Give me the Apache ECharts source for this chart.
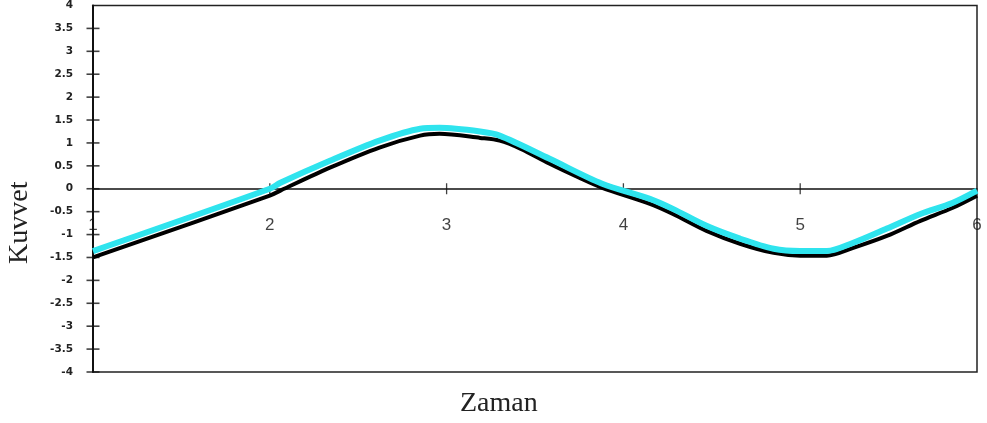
<!DOCTYPE html>
<html>
<head>
<meta charset="utf-8">
<script src="https://cdn.jsdelivr.net/npm/echarts@6/dist/echarts.min.js"></script>
<style>
html,body{margin:0;padding:0;background:#fff;}
#c{width:987px;height:423px;}
</style>
</head>
<body>
<div id="c"></div>
<script>
var xLabels = ['1', '2', '3', '4', '5', '6'];
var xTicks = [2, 3, 4, 5];
var yTicks = [-4, -3.5, -3, -2.5, -2, -1.5, -1, -0.5, 0, 0.5, 1, 1.5, 2, 2.5, 3, 3.5];
var blackX = [1.0, 2.0, 2.06, 2.34, 2.62, 2.85, 2.96, 3.19, 3.30, 3.42, 3.58, 3.75, 3.88, 4.15, 4.28, 4.47, 4.66, 4.85, 5.0, 5.15, 5.30, 5.49, 5.68, 5.86, 6.0];
var blackY = [-1.5, -0.15, -0.04, 0.46, 0.9, 1.16, 1.2, 1.11, 1.05, 0.87, 0.55, 0.24, 0.02, -0.33, -0.55, -0.92, -1.2, -1.4, -1.46, -1.46, -1.29, -1.03, -0.7, -0.42, -0.15];
var cyanX = [1.0, 2.0, 2.06, 2.34, 2.62, 2.85, 2.96, 3.19, 3.30, 3.58, 3.88, 4.15, 4.28, 4.47, 4.66, 4.85, 5.0, 5.15, 5.30, 5.49, 5.68, 5.86, 6.0];
var cyanY = [-1.36, 0.0, 0.13, 0.61, 1.05, 1.31, 1.33, 1.25, 1.16, 0.66, 0.11, -0.22, -0.44, -0.81, -1.09, -1.31, -1.36, -1.36, -1.18, -0.87, -0.55, -0.31, -0.04];
var xTitle = 'Zaman';
var yTitle = 'Kuvvet';

function pairs(xs, ys) { return xs.map(function (x, i) { return [x, ys[i]]; }); }

var chart = echarts.init(document.getElementById('c'), null, {renderer: 'canvas'});
chart.setOption({
  animation: false,
  backgroundColor: '#ffffff',
  grid: {left: 93, right: 10, top: 5, bottom: 51, show: true, borderColor: '#222', borderWidth: 1.5, backgroundColor: 'transparent'},
  xAxis: {
    type: 'value', min: 1, max: 6, interval: 1,
    axisLine: {onZero: true, lineStyle: {color: '#111', width: 1.5}},
    axisTick: {show: false},
    axisLabel: {show: false},
    splitLine: {show: false}
  },
  yAxis: {
    type: 'value', min: -4, max: 4, interval: 0.5,
    axisLine: {show: true, onZero: false, lineStyle: {color: '#111', width: 2}},
    axisTick: {show: false},
    axisLabel: {margin: 20, color: '#222', fontFamily: 'DejaVu Sans', fontWeight: 'bold', fontSize: 10.5, formatter: function (v) { return String(v); }},
    splitLine: {show: false}
  },
  series: [{
    type: 'scatter', data: xTicks.map(function (x) { return [x, 0]; }),
    symbol: 'rect', symbolSize: [1.3, 11], itemStyle: {color: '#111'}, silent: true, z: 2
  }, {
    type: 'scatter', data: yTicks.map(function (y) { return [1, y]; }),
    symbol: 'rect', symbolSize: [13, 1.6], itemStyle: {color: '#111'}, silent: true, z: 2
  }, {
    type: 'line', data: pairs(blackX, blackY), smooth: 0.3, showSymbol: false,
    lineStyle: {color: '#000', width: 4}, z: 3
  }, {
    type: 'line', data: pairs(cyanX, cyanY), smooth: 0.3, showSymbol: false,
    lineStyle: {color: '#2fe4ee', width: 6}, z: 4
  }, {
    type: 'scatter', data: xLabels.map(function (t, i) { return [i + 1, 0]; }),
    symbol: 'rect', symbolSize: 1, itemStyle: {color: 'rgba(0,0,0,0)'}, silent: true, z: 10, clip: false,
    labelLayout: {hideOverlap: false},
    label: {show: true, position: 'bottom', distance: 28, color: '#111', fontFamily: 'Liberation Sans', fontSize: 17,
      formatter: function (p) { return xLabels[p.dataIndex]; }}
  }],
  graphic: [{
    type: 'text', left: 460, top: 390,
    style: {text: xTitle, font: '28px "Liberation Serif"', fill: '#222'}
  }, {
    type: 'text', rotation: Math.PI / 2, x: 6, y: 264,
    style: {text: yTitle, font: '28px "Liberation Serif"', fill: '#222'}
  }]
});
</script>
</body>
</html>
